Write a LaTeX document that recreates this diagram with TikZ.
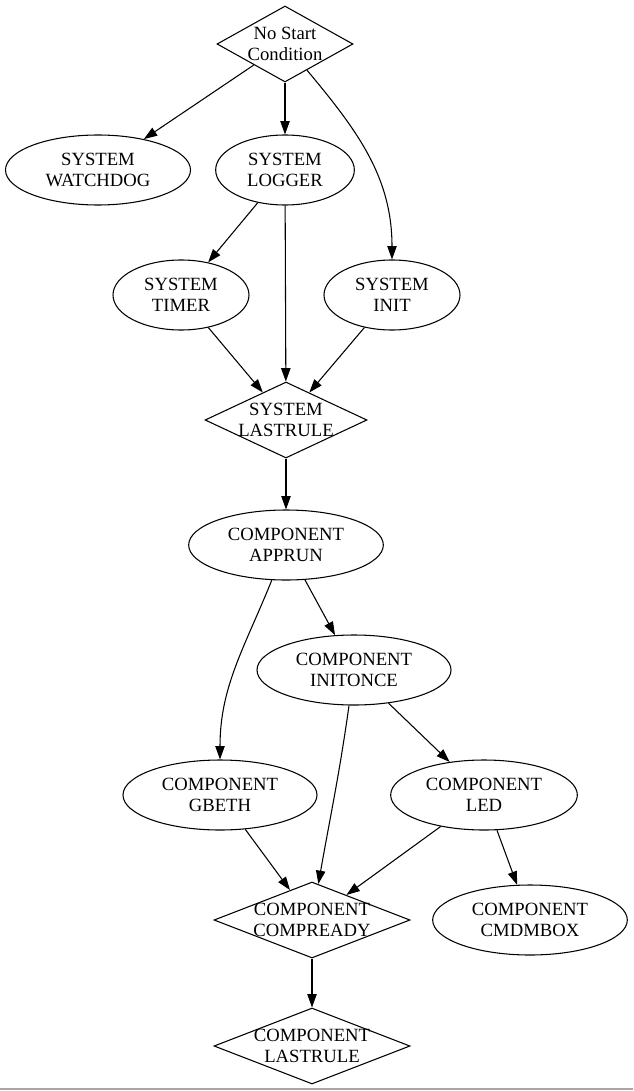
\documentclass[tikz,border=0pt]{standalone}
\usepackage{fontspec}
\setmainfont{Liberation Serif}
\usetikzlibrary{shapes.geometric, arrows.meta}

\begin{document}
\begin{tikzpicture}[
    x=0.75pt, y=-0.75pt,
    font=\fontsize{14pt}{15.75pt}\selectfont,
    task/.style={ellipse, draw, line width=0.8pt, inner sep=0pt,
                 minimum height=52.5pt, align=center},
    cond/.style={diamond, draw, line width=0.8pt, inner sep=0pt,
                 minimum height=57pt, label={[align=center]center:#1}},
    arrow/.style={-{Triangle[length=10pt, width=7pt]}, line width=0.8pt},
]
\useasboundingbox (0,0) rectangle (633,1091);

\node[cond={No Start\\Condition}, minimum width=102pt] (start) at (285,44) {};
\node[task, minimum width=138.75pt] (watchdog) at (98,170) {SYSTEM\\WATCHDOG};
\node[task, minimum width=104pt] (logger) at (285,170) {SYSTEM\\LOGGER};
\node[task, minimum width=102pt] (timer) at (181,295) {SYSTEM\\TIMER};
\node[task, minimum width=102pt] (init) at (392,295) {SYSTEM\\INIT};
\node[cond={SYSTEM\\LASTRULE}, minimum width=121.5pt] (syslast) at (286,420) {};
\node[task, minimum width=146pt] (apprun) at (286,545) {COMPONENT\\APPRUN};
\node[task, minimum width=145.5pt] (initonce) at (354,670) {COMPONENT\\INITONCE};
\node[task, minimum width=145.5pt] (gbeth) at (220,795) {COMPONENT\\GBETH};
\node[task, minimum width=140pt] (led) at (484,795) {COMPONENT\\LED};
\node[cond={COMPONENT\\COMPREADY}, minimum width=147pt] (compready) at (312,920) {};
\node[task, minimum width=146pt] (cmdmbox) at (530,920) {COMPONENT\\CMDMBOX};
\node[cond={COMPONENT\\LASTRULE}, minimum width=147pt] (complast) at (312,1046) {};

\draw[arrow] (start)--(watchdog);
\draw[arrow] (start)--(logger);
\draw[arrow] (start) to[out=-50, in=90] (init);
\draw[arrow] (logger)--(timer);
\draw[arrow] (logger)--(syslast);
\draw[arrow] (timer)--(syslast);
\draw[arrow] (init)--(syslast);
\draw[arrow] (syslast)--(apprun);
\draw[arrow] (apprun)--(initonce);
\draw[arrow] (apprun) to[out=-112, in=90] (gbeth);
\draw[arrow] (initonce) to[out=-98, in=80] (compready);
\draw[arrow] (initonce)--(led);
\draw[arrow] (gbeth)--(compready);
\draw[arrow] (led)--(compready);
\draw[arrow] (led)--(cmdmbox);
\draw[arrow] (compready)--(complast);

\draw[black!35, line width=1.5pt] (0,1088.5)--(633,1088.5);
\end{tikzpicture}
\end{document}
